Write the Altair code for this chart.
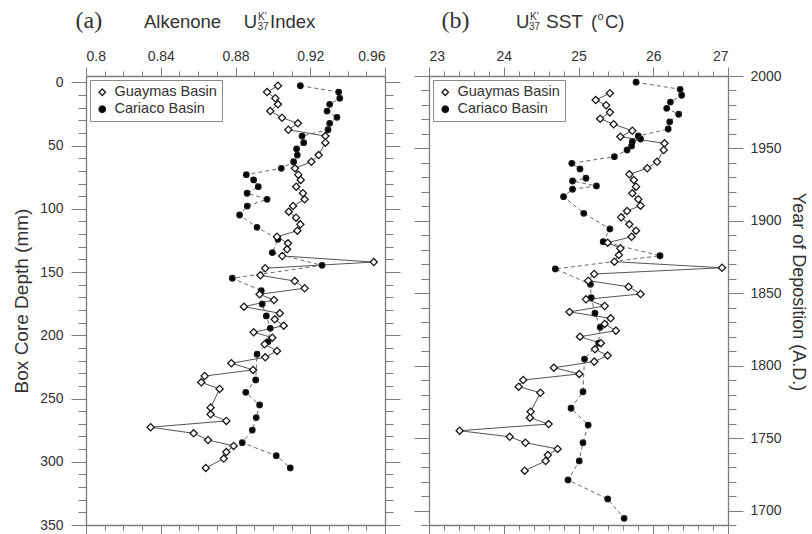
import altair as alt
import pandas as pd

# ---------------- data ----------------
BASINS = ["Guaymas Basin", "Cariaco Basin"]

# panel (a): Alkenone UK'37 index vs box core depth (mm)
GUAY_DEPTH = [2.7, 7.7, 12.6, 17.4, 22.7, 28.0, 32.4, 37.5, 42.5, 47.7,
              57.5, 62.8, 68.0, 73.0, 77.2, 82.5, 87.7, 92.5, 97.8, 102.3,
              107.0, 112.3, 117.3, 122.1, 127.3, 132.0, 137.3, 142.1, 147.0, 152.6,
              157.1, 162.8, 167.6, 172.1, 177.4, 182.6, 187.4, 192.4, 197.6, 201.9,
              207.1, 212.4, 217.4, 222.1, 227.4, 232.2, 237.2, 242.4, 257.2, 262.5,
              267.7, 272.7, 277.5, 282.8, 287.5, 292.3, 297.5, 304.9]
GUAY_UK37 = [0.9027, 0.8969, 0.9013, 0.9027, 0.8986, 0.9049, 0.9134, 0.9083, 0.9281, 0.9281,
             0.9245, 0.9206, 0.9118, 0.9136, 0.9149, 0.9125, 0.9161, 0.9170, 0.9108, 0.9085,
             0.9124, 0.9147, 0.9131, 0.9022, 0.9081, 0.9076, 0.9050, 0.9540, 0.8959, 0.8933,
             0.9117, 0.9170, 0.8929, 0.9006, 0.8845, 0.9037, 0.9010, 0.9058, 0.8897, 0.8997,
             0.8956, 0.9022, 0.8959, 0.8778, 0.8894, 0.8635, 0.8617, 0.8715, 0.8667, 0.8667,
             0.8751, 0.8346, 0.8576, 0.8653, 0.8790, 0.8751, 0.8737, 0.8641]
CARI_DEPTH = [2.7, 7.7, 12.6, 17.4, 22.7, 27.7, 32.4, 37.5, 42.5, 47.7,
              52.7, 57.5, 62.8, 68.0, 73.0, 77.2, 82.5, 87.7, 92.5, 97.8,
              104.9, 114.6, 124.1, 134.7, 144.7, 154.9, 164.7, 175.3, 184.7, 194.5,
              205.1, 215.0, 235.3, 245.1, 255.1, 265.1, 274.9, 284.9, 295.2, 304.9]
CARI_UK37 = [0.9147, 0.9352, 0.9358, 0.9304, 0.9290, 0.9343, 0.9304, 0.9295, 0.9156, 0.9165,
             0.9127, 0.9131, 0.9111, 0.9045, 0.8858, 0.8897, 0.8922, 0.8862, 0.8969, 0.8863,
             0.8822, 0.8915, 0.9027, 0.8997, 0.9263, 0.8783, 0.8938, 0.8943, 0.8965, 0.8986,
             0.8974, 0.8915, 0.8908, 0.8855, 0.8929, 0.8911, 0.8890, 0.8836, 0.9018, 0.9093]

# panel (b): UK'37 SST (deg C) vs year of deposition (A.D.)
GUAY_YEAR = [1988.1, 1983.4, 1979.8, 1974.9, 1970.5, 1966.7, 1962.2, 1958.1, 1953.5, 1948.9,
             1940.8, 1936.3, 1932.1, 1928.2, 1923.6, 1919.0, 1914.9, 1910.5, 1906.8, 1902.4,
             1897.6, 1893.2, 1889.0, 1884.9, 1881.0, 1876.4, 1871.8, 1867.6, 1863.3, 1858.7,
             1854.5, 1849.5, 1845.8, 1841.2, 1837.1, 1832.7, 1828.8, 1824.2, 1820.0, 1815.5,
             1811.3, 1807.0, 1802.8, 1798.6, 1794.3, 1790.1, 1785.5, 1781.3, 1768.2, 1764.1,
             1759.7, 1755.1, 1750.9, 1746.8, 1742.5, 1738.3, 1734.2, 1727.5]
GUAY_SST = [25.42, 25.23, 25.37, 25.42, 25.29, 25.47, 25.72, 25.56, 26.15, 26.14,
            26.05, 25.92, 25.68, 25.74, 25.77, 25.72, 25.80, 25.83, 25.65, 25.57,
            25.68, 25.77, 25.71, 25.39, 25.56, 25.54, 25.48, 26.92, 25.21, 25.13,
            25.67, 25.83, 25.10, 25.35, 24.88, 25.43, 25.35, 25.50, 25.02, 25.30,
            25.22, 25.39, 25.21, 24.67, 25.01, 24.26, 24.20, 24.49, 24.36, 24.35,
            24.60, 23.41, 24.08, 24.29, 24.72, 24.59, 24.56, 24.28]
CARI_YEAR = [1995.7, 1990.8, 1986.7, 1982.0, 1977.7, 1973.6, 1968.4, 1963.4, 1958.6, 1956.5,
             1954.6, 1951.7, 1948.9, 1944.3, 1939.7, 1935.8, 1929.4, 1927.5, 1924.1, 1921.8,
             1916.7, 1905.2, 1894.4, 1885.6, 1875.9, 1866.8, 1856.2, 1846.9, 1836.2, 1826.5,
             1815.5, 1804.6, 1782.0, 1770.6, 1759.0, 1746.8, 1734.2, 1721.1, 1708.0, 1694.6]
CARI_SST = [25.77, 26.36, 26.38, 26.23, 26.18, 26.34, 26.22, 26.20, 25.80, 25.83,
            25.72, 25.71, 25.65, 25.48, 24.91, 25.02, 25.10, 24.92, 25.24, 24.92,
            24.80, 25.07, 25.42, 25.33, 26.09, 24.69, 25.16, 25.17, 25.22, 25.29,
            25.27, 25.08, 25.06, 24.90, 25.13, 25.06, 25.01, 24.86, 25.39, 25.61]

# axis tick positions
UK_TICKS = [round(0.80 + 0.01 * i, 2) for i in range(17)]
SST_TICKS = [round(23 + 0.2 * i, 1) for i in range(21)]
DEPTH_TICKS = list(range(0, 351, 10))
YEAR_TICKS = list(range(1690, 2001, 10))

# ---------------- styling ----------------
FONT = "Liberation Sans"
SERIF = "Liberation Serif"
FRAME = "#7d7d7d"
INK = "#333333"
TSIZE = 18.5


def make_df(basin, xs, ys):
    return pd.DataFrame({"basin": [basin] * len(xs), "x": xs, "y": ys,
                         "i": list(range(len(xs)))})


def ticksize(test, major, minor):
    return {"condition": {"test": test, "value": major}, "value": minor}


def axis(orient, values, test, major, minor, labels=False, label_expr=None, **kw):
    props = dict(
        orient=orient, values=values, grid=False,
        domainColor=FRAME, domainWidth=1.3, tickColor=FRAME, tickWidth=1,
        tickSize=ticksize(test, major, minor),
        labels=labels, labelFont=FONT, labelFontSize=14, labelColor=INK,
        titleFont=FONT, titleFontSize=19, titleFontWeight="normal", titleColor=INK,
    )
    if label_expr is not None:
        props["labelExpr"] = label_expr
    props.update(kw)
    return alt.Axis(**props)


LEGEND = alt.Legend(
    orient="top-left", offset=4, padding=5, rowPadding=2,
    strokeColor="#8a8a8a", fillColor="white",
    labelFont=FONT, labelFontSize=14.5, labelColor=INK, labelOffset=5,
    symbolSize=42, symbolStrokeWidth=1.3,
)
SHAPE_SCALE = alt.Scale(domain=BASINS, range=["diamond", "circle"])
FILL_SCALE = alt.Scale(domain=BASINS, range=["white", "black"])
STROKE_SCALE = alt.Scale(domain=BASINS, range=["#1a1a1a", "#1a1a1a"])


def txt(s, x, y, size=TSIZE, font=FONT, align="left", angle=0, baseline="alphabetic"):
    return alt.Chart(pd.DataFrame({"t": [s]})).mark_text(
        align=align, baseline=baseline, font=font, fontSize=size, color=INK,
        angle=angle,
    ).encode(x=alt.value(x), y=alt.value(y), text="t:N")


def panel(df_g, df_c, xscale, yscale, xtop, xbot, yleft, yright, ltitle, texts):
    line_g = alt.Chart(df_g).mark_line(color="#555555", strokeWidth=1).encode(
        x=alt.X("x:Q", scale=xscale, axis=xtop, title=None),
        y=alt.Y("y:Q", scale=yscale, axis=yleft, title=ltitle),
        order="i:Q",
    )
    line_c = alt.Chart(df_c).mark_line(color="#6a6a6a", strokeWidth=1,
                                       strokeDash=[4, 3]).encode(
        x=alt.X("x:Q", scale=xscale, axis=xbot, title=None),
        y=alt.Y("y:Q", scale=yscale, axis=yright, title=None),
        order="i:Q",
    )

    def pts(df, size):
        return alt.Chart(df).mark_point(filled=False, size=size,
                                        strokeWidth=1.3, opacity=1).encode(
            x=alt.X("x:Q", scale=xscale, axis=None, title=None),
            y=alt.Y("y:Q", scale=yscale, axis=None, title=None),
            shape=alt.Shape("basin:N", title=None, legend=LEGEND, scale=SHAPE_SCALE),
            fill=alt.Fill("basin:N", title=None, legend=LEGEND, scale=FILL_SCALE),
            stroke=alt.Stroke("basin:N", title=None, legend=LEGEND, scale=STROKE_SCALE),
        )

    return alt.layer(line_g, line_c, pts(df_c, 30), pts(df_g, 52), *texts).resolve_axis(
        x="independent", y="independent"
    ).properties(width=299, height=449)


# ---------- panel (a) ----------
UK_TEST = "abs(datum.value*25 - round(datum.value*25)) < 0.001"
D_TEST = "datum.value % 50 === 0"
pa = panel(
    make_df(BASINS[0], GUAY_UK37, GUAY_DEPTH),
    make_df(BASINS[1], CARI_UK37, CARI_DEPTH),
    alt.Scale(domain=[0.80, 0.96], nice=False, zero=False),
    alt.Scale(domain=[-5, 350], reverse=True, nice=False, zero=False),
    axis("top", UK_TICKS, UK_TEST, 9, 5, labels=True, labelPadding=4,
         label_expr=f"{UK_TEST} ? format(datum.value, '.2~f') : ''"),
    axis("bottom", UK_TICKS, UK_TEST, 9, 5),
    axis("left", DEPTH_TICKS, D_TEST, 15, 8, labels=True, labelPadding=8,
         label_expr=f"{D_TEST} ? datum.label : ''", titlePadding=8),
    axis("right", DEPTH_TICKS, D_TEST, 15, 8),
    "Box Core Depth (mm)",
    [
        txt("(a)", -10.5, -48.5, 24, font=SERIF),
        txt("Alkenone", 58, -48),
        txt("U", 171, -48, align="right"),
        txt("K'", 172, -56.5, 10),
        txt("37", 171.5, -46, 10),
        txt("Index", 184, -48),
    ],
)

# ---------- panel (b) ----------
T_TEST = "abs(datum.value - round(datum.value)) < 0.001"
Y_TEST = "datum.value % 50 === 0"
pb = panel(
    make_df(BASINS[0], GUAY_SST, GUAY_YEAR),
    make_df(BASINS[1], CARI_SST, CARI_YEAR),
    alt.Scale(domain=[23, 27], nice=False, zero=False),
    alt.Scale(domain=[1690, 2000], nice=False, zero=False),
    axis("top", SST_TICKS, T_TEST, 9, 5, labels=True, labelPadding=4,
         label_expr=f"{T_TEST} ? format(datum.value, 'd') : ''"),
    axis("bottom", SST_TICKS, T_TEST, 9, 5),
    axis("left", YEAR_TICKS, Y_TEST, 15, 8),
    axis("right", YEAR_TICKS, Y_TEST, 15, 8, labels=True, labelPadding=7,
         label_expr=f"{Y_TEST} ? format(datum.value, 'd') : ''"),
    None,
    [
        txt("(b)", 12.5, -48.5, 24, font=SERIF),
        txt("U", 87, -48),
        txt("K'", 101, -56.5, 10),
        txt("37", 100, -46, 10),
        txt("SST", 117, -48, 19),
        txt("(", 162, -48),
        txt("o", 168.5, -56.5, 11),
        txt("C)", 176, -48),
        txt("Year of Deposition (A.D.)", 369, 216, 18, align="center",
            angle=90, baseline="middle"),
    ],
)

chart = alt.hconcat(pa, pb, spacing=44, bounds="flush").resolve_scale(
    shape="independent", fill="independent", stroke="independent"
).properties(
    padding={"left": 12, "top": 8, "right": 5, "bottom": 0}
).configure_view(strokeWidth=0)

chart.save("out.html", embed_options={"renderer": "svg", "actions": False})
